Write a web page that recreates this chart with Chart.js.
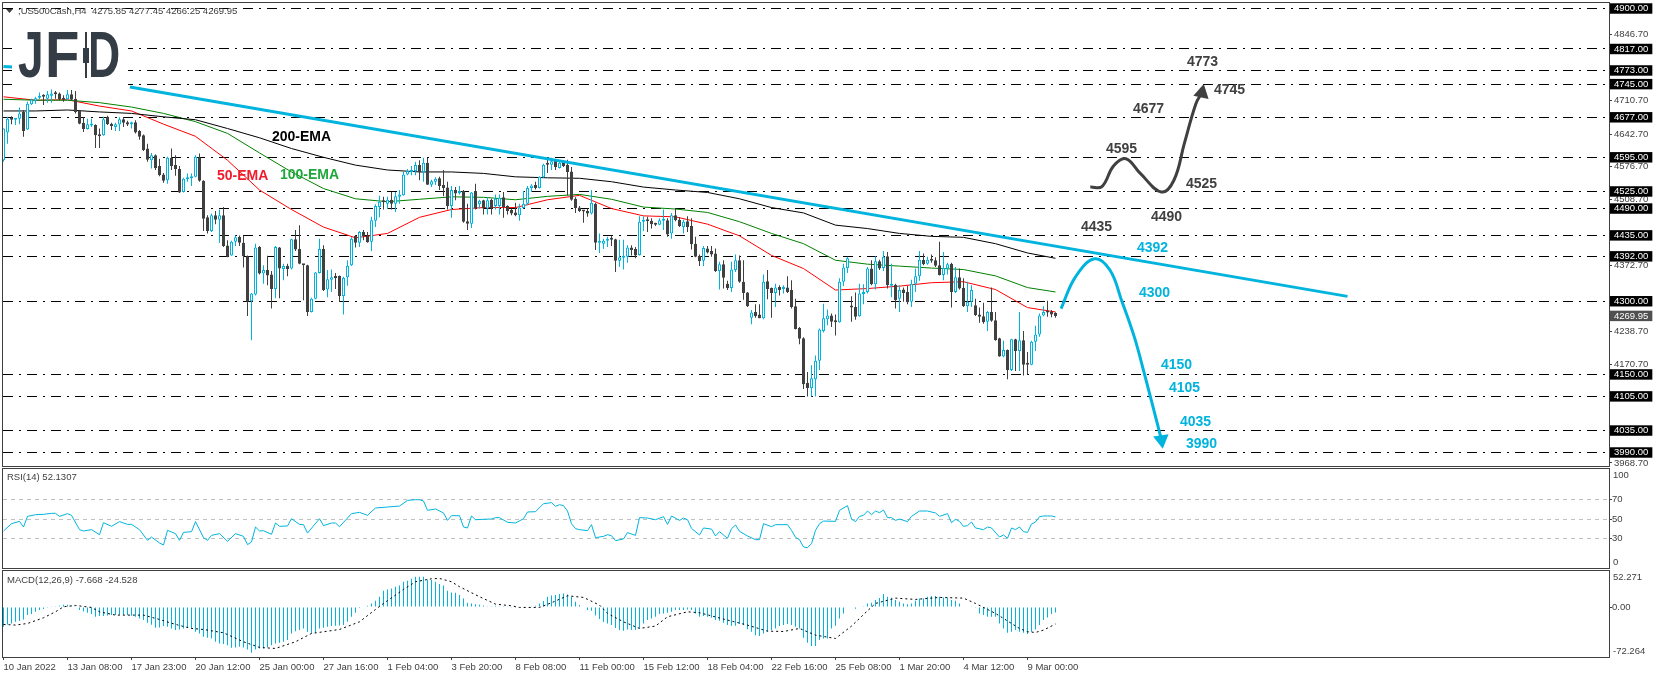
<!DOCTYPE html>
<html>
<head>
<meta charset="utf-8">
<title>US500Cash H4</title>
<style>
html, body { margin: 0; padding: 0; background: #fff; }
#wrap { position: relative; width: 1655px; height: 678px; overflow: hidden; }
canvas { position: absolute; left: 0; }
#logo { position: absolute; left: 12px; top: 25px; width: 116px; height: 62px; background: #fff; overflow: hidden; }
#logo span { position: absolute; top: -2px; font: bold 64px "Liberation Sans", sans-serif; line-height: 64px;
    color: #343c46; transform-origin: left top; }
#logo i { position: absolute; background: #343c46; }
</style>
<script src="https://cdn.jsdelivr.net/npm/chart.js@4"></script>
</head>
<body>
<div id="wrap">
    <canvas id="mainChart" width="1655" height="468" style="top:0"></canvas>
    <canvas id="rsiChart" width="1655" height="101" style="top:468px"></canvas>
    <canvas id="macdChart" width="1655" height="108" style="top:570px"></canvas>
    <div id="logo">
        <span style="left:6px;transform:scaleX(.72)">J</span>
        <span style="left:33px;transform:scaleX(.88)">F</span>
        <span style="left:75px;transform:scaleX(.72)">D</span>
        <i style="left:69px;top:4px;width:10px;height:50px;background:#fff"></i>
        <i style="left:73px;top:7px;width:2px;height:46px"></i>
        <i style="left:71px;top:23px;width:6px;height:15px"></i>
    </div>
</div>
<script>
// candles, oldest first
const opens = [
    4589,4646,4676,4672,4674,4688,4652,4704,4711,4717,
    4720,4715,4721,4725,4726,4717,4714,4724,4715,4690,
    4666,4653,4660,4661,4642,4640,4678,4664,4657,4662,
    4673,4667,4663,4667,4649,4640,4613,4589,4599,4577,
    4560,4548,4594,4579,4571,4524,4550,4552,4555,4595,
    4547,4472,4444,4476,4467,4476,4414,4394,4422,4432,
    4420,4392,4300,4314,4411,4357,4364,4355,4325,4410,
    4366,4373,4367,4427,4407,4376,4374,4278,4305,4358,
    4407,4324,4344,4352,4352,4311,4349,4374,4434,4420,
    4442,4435,4422,4465,4493,4505,4500,4508,4500,4514,
    4517,4560,4565,4567,4579,4565,4584,4539,4545,4552,
    4538,4533,4495,4528,4522,4526,4464,4459,4526,4499,
    4507,4490,4508,4495,4495,4513,4495,4487,4482,4476,
    4491,4500,4532,4538,4532,4554,4582,4580,4588,4573,
    4586,4580,4566,4510,4492,4487,4485,4480,4500,4420,
    4418,4424,4428,4427,4383,4389,4391,4410,4407,4395,
    4463,4466,4465,4458,4457,4465,4466,4439,4476,4467,
    4452,4464,4454,4418,4393,4383,4408,4403,4398,4362,
    4376,4336,4327,4364,4384,4340,4318,4266,4278,4273,
    4265,4341,4327,4317,4329,4325,4328,4323,4290,4245,
    4224,4133,4122,4140,4178,4239,4263,4271,4258,4257,
    4340,4368,4290,4288,4269,4315,4319,4367,4335,4382,
    4368,4392,4332,4334,4305,4324,4319,4299,4336,4351,
    4385,4377,4385,4384,4374,4354,4367,4377,4319,4349,
    4327,4290,4299,4292,4273,4269,4258,4278,4261,4224,
    4187,4200,4159,4222,4198,4220,4172,4170,4217,4232,
    4271,4279,4279,4275.85
];
const highs = [
    4654,4678,4679,4674,4697,4692,4709,4715,4719,4728,
    4724,4731,4734,4731,4728,4722,4733,4733,4731,4692,
    4677,4674,4674,4663,4654,4678,4680,4666,4666,4677,
    4677,4670,4668,4671,4651,4642,4623,4604,4601,4592,
    4563,4596,4613,4599,4577,4553,4562,4562,4599,4603,
    4548,4476,4480,4485,4488,4493,4425,4424,4435,4435,
    4435,4394,4317,4418,4413,4374,4393,4362,4413,4411,
    4377,4377,4428,4446,4456,4376,4375,4307,4360,4428,
    4415,4364,4365,4358,4353,4350,4384,4431,4435,4444,
    4446,4442,4473,4499,4516,4514,4514,4524,4524,4528,
    4565,4571,4577,4586,4589,4594,4594,4549,4554,4555,
    4569,4545,4536,4534,4536,4528,4500,4524,4541,4508,
    4508,4513,4510,4519,4519,4524,4497,4490,4502,4500,
    4526,4536,4540,4545,4556,4582,4592,4594,4590,4589,
    4588,4590,4575,4513,4495,4487,4490,4528,4502,4439,
    4428,4432,4435,4428,4426,4426,4415,4415,4411,4474,
    4474,4473,4470,4461,4470,4488,4470,4481,4490,4472,
    4467,4474,4470,4432,4396,4413,4413,4413,4408,4381,
    4384,4342,4381,4396,4394,4384,4319,4282,4294,4294,
    4355,4364,4328,4336,4333,4333,4351,4343,4305,4247,
    4226,4155,4169,4189,4244,4295,4283,4275,4273,4347,
    4377,4391,4310,4318,4336,4335,4370,4384,4392,4385,
    4403,4401,4377,4336,4333,4328,4331,4344,4367,4403,
    4398,4391,4396,4390,4422,4401,4379,4379,4370,4367,
    4347,4340,4333,4305,4287,4297,4280,4328,4278,4225,
    4219,4201,4223,4223,4278,4239,4196,4219,4250,4275,
    4290,4301,4282,4277.45
];
const lows = [
    4586,4623,4663,4661,4663,4637,4651,4702,4705,4714,
    4702,4707,4707,4715,4712,4709,4712,4712,4685,4663,
    4647,4652,4657,4614,4614,4639,4661,4651,4649,4649,
    4657,4659,4654,4644,4631,4608,4586,4572,4569,4556,
    4543,4541,4569,4557,4522,4523,4545,4536,4554,4545,
    4444,4439,4442,4458,4420,4411,4390,4393,4413,4413,
    4369,4270,4220,4312,4355,4336,4333,4285,4306,4306,
    4343,4351,4365,4403,4376,4302,4270,4277,4304,4357,
    4321,4308,4319,4325,4299,4273,4332,4372,4410,4411,
    4425,4420,4403,4452,4472,4488,4489,4488,4483,4500,
    4516,4558,4558,4558,4548,4545,4538,4534,4538,4528,
    4515,4488,4471,4507,4519,4461,4446,4450,4488,4490,
    4478,4478,4478,4488,4478,4471,4478,4476,4474,4465,
    4490,4497,4524,4529,4531,4553,4563,4569,4569,4572,
    4575,4517,4506,4481,4483,4461,4473,4478,4405,4399,
    4407,4411,4413,4360,4370,4365,4379,4394,4388,4394,
    4444,4442,4449,4454,4456,4446,4432,4428,4464,4452,
    4439,4442,4406,4390,4372,4372,4398,4391,4360,4324,
    4326,4323,4319,4360,4338,4303,4288,4253,4266,4265,
    4263,4304,4266,4288,4312,4316,4317,4285,4242,4212,
    4120,4105,4105,4105,4159,4236,4251,4247,4230,4256,
    4331,4358,4258,4262,4268,4294,4316,4333,4324,4364,
    4362,4326,4308,4285,4278,4299,4294,4288,4319,4342,
    4374,4375,4379,4370,4353,4343,4355,4287,4317,4324,
    4288,4278,4288,4270,4256,4254,4239,4258,4219,4186,
    4185,4140,4157,4157,4157,4148,4150,4169,4198,4227,
    4269,4268,4267,4266.25
];
const closes = [
    4654,4674,4672,4674,4685,4649,4705,4713,4716,4719,
    4719,4724,4726,4724,4714,4713,4724,4713,4688,4664,
    4653,4663,4663,4640,4638,4673,4663,4659,4663,4673,
    4666,4662,4665,4646,4637,4610,4590,4599,4573,4558,
    4547,4594,4577,4571,4523,4551,4553,4556,4596,4547,
    4469,4444,4476,4467,4476,4413,4391,4422,4431,4420,
    4392,4299,4316,4410,4357,4364,4353,4325,4411,4367,
    4372,4366,4427,4406,4377,4374,4278,4305,4359,4407,
    4323,4345,4349,4347,4311,4348,4373,4428,4420,4442,
    4433,4421,4466,4495,4504,4503,4508,4500,4515,4519,
    4560,4567,4569,4579,4565,4584,4539,4546,4551,4536,
    4532,4495,4528,4521,4524,4463,4459,4523,4490,4506,
    4490,4507,4490,4510,4512,4493,4485,4480,4476,4492,
    4500,4532,4537,4532,4555,4580,4580,4587,4575,4584,
    4577,4565,4508,4491,4485,4484,4480,4502,4420,4424,
    4424,4428,4426,4383,4390,4392,4410,4405,4394,4463,
    4466,4464,4458,4457,4466,4468,4437,4476,4466,4454,
    4463,4452,4417,4391,4382,4409,4400,4396,4362,4376,
    4348,4327,4365,4384,4340,4317,4290,4277,4269,4265,
    4340,4325,4317,4328,4323,4328,4319,4288,4243,4223,
    4130,4122,4142,4178,4242,4265,4271,4258,4257,4340,
    4369,4388,4287,4268,4316,4319,4367,4335,4382,4367,
    4391,4333,4335,4302,4323,4317,4298,4336,4351,4385,
    4376,4385,4383,4373,4354,4368,4376,4319,4349,4326,
    4290,4299,4323,4272,4268,4257,4278,4260,4220,4187,
    4200,4159,4222,4198,4220,4170,4170,4217,4232,4271,
    4278,4277,4273,4269.95
];

// moving averages, read every 8 bars
const emaBars = [0,8,16,24,32,40,48,56,64,72,80,88,96,104,112,120,128,136,144,152,160,168,176,184,192,200,208,216,224,232,240,248,256,263];
const ema50 = [4719,4712,4713,4700,4690,4663,4638,4589,4528,4488,4452,4430,4439,4472,4488,4492,4492,4508,4517,4490,4475,4473,4458,4434,4394,4367,4323,4326,4331,4338,4340,4324,4287,4278];
const ema100 = [4714,4712,4712,4707,4698,4685,4668,4644,4604,4565,4531,4510,4504,4509,4514,4513,4508,4515,4519,4509,4493,4489,4482,4463,4439,4418,4384,4376,4372,4368,4365,4352,4328,4319];
const ema200 = [4690,4690,4692,4688,4685,4678,4672,4654,4635,4613,4595,4579,4569,4565,4565,4562,4555,4553,4552,4545,4534,4528,4523,4510,4492,4481,4456,4449,4439,4433,4431,4418,4399,4388];

// horizontal levels and price axis
const levels = [4900,4817,4773,4745,4677,4595,4525,4490,4435,4392,4300,4150,4105,4035,3990];
const plainPriceTicks = [4846.7,4710.7,4642.7,4576.7,4508.7,4372.7,4238.7,4170.7,3968.7];
const lastPrice = 4269.95;

// drawn trend line and forecast paths
const trendBars = [31.6,336];
const trendPrices = [4739,4310];
const earlyTrendBars = [0,2.25];
const earlyTrendPrices = [4781,4780];
const bearBars = [264.4,268,272.75,276.6,279.5,282.7,285.2,289.5];
const bearPrices = [4285,4350,4387,4364,4302,4227,4152,4016];
const bullBars = [271.7,274.6,277.5,280.6,284.2,289.45,292.6,295.2,298.1,299.6];
const bullPrices = [4534,4535,4577,4592,4562,4524,4548,4623,4705,4727];

// RSI(14), read at the turning points
const rsiBars = [0,2,4,5,6,8,10,12,13,14,16,17,19,20,22,24,25,27,29,31,32,34,36,37,39,40,41,43,44,45,47,48,50,51,52,54,56,58,60,61,62,63,64,65,67,68,69,71,72,74,75,76,79,80,82,83,84,87,89,91,93,96,99,101,103,104,105,106,108,110,111,112,114,115,116,117,118,120,122,123,124,126,128,130,131,133,135,137,138,139,140,141,142,143,144,146,147,148,150,151,152,153,155,156,158,159,161,163,165,166,167,169,170,171,172,174,175,177,178,179,181,182,183,184,186,188,189,190,192,193,196,197,198,199,200,201,202,203,204,205,208,209,211,212,213,214,215,216,217,218,219,220,221,222,223,224,226,227,229,231,233,234,236,237,238,239,240,241,242,243,245,246,247,249,250,251,252,253,254,255,256,257,258,259,260,261,262,263];
const rsiValues = [37.7,45.2,47.6,41.8,52.7,54.4,54.8,55.8,55.8,52.7,55.5,53.8,39.1,37.7,39.1,33.9,46.2,42.5,47.3,44.5,44.5,39.1,28.1,31.5,25.4,23.3,38.4,35,28.1,36.3,37,47.3,30.9,28.1,33.2,35,27.1,35,32.2,23.7,26.4,41.8,37.7,38,34.3,45.9,42.5,42.8,50.3,44.5,44.2,35.6,50.3,43.2,45.9,45.9,42.1,55.5,56.8,53.8,61.3,62.3,63.3,69.1,69.8,69.8,68.5,58.9,60.3,56.2,48.6,53.4,53.4,41.8,40.8,53.1,49.3,49.7,50,51.4,51.4,46.6,45.9,50.3,57.2,57.5,65.7,66.8,63,64.7,63.7,58.2,45.2,40.1,39.1,38,44.2,30.9,32.2,33.9,32.9,27.8,29.5,36,33.2,51.4,51,49.3,52.4,44.5,53.1,48.6,51,49.3,40.4,33.6,40.8,39.7,32.6,37,30.2,40.1,43.8,37.4,32.6,28.8,28.8,45.2,42.1,44.2,44.2,38.4,31.2,28.8,21.3,20.6,24.7,38.4,45.2,47.9,47.6,58.9,63.7,50,47.3,52.7,53.8,58.2,54.4,58.2,56.5,59.2,51.4,51.4,48.6,50,47.3,52.7,58.2,58.2,56.2,52.7,55.5,46.2,49.7,47.6,42.5,43.2,46.9,40.8,39.1,41.8,40.8,31.5,33.6,30.2,40.8,39.1,41.8,37,36.3,44.9,46.9,52.4,53.1,53.1,53.1,52.13];
const rsiLevels = [70,50,30];

// MACD(12,26,9): one histogram value per bar, signal line at its turning points
const macdHist = [
    -28.5,-25.1,-23.7,-21.3,-20.3,-17.9,-11.6,-10.1,-6.8,-4.3,
    -2.9,-1,1.4,1.4,1.9,3.4,3.4,2.4,1.4,-4.3,
    -6.3,-8.2,-10.1,-14,-13,-13,-12.1,-11.6,-11.6,-11.1,
    -11.1,-11.6,-12.6,-14,-16.4,-18.8,-22.7,-25.6,-29.9,-29.5,
    -27.5,-28.5,-30.9,-33.3,-32.4,-30.9,-29.9,-30.9,-35.7,-38.2,
    -43,-44.4,-45.4,-50.2,-52.6,-53.6,-55.1,-58.9,-58.4,-57.5,
    -58.4,-61.4,-66.2,-61.4,-59.9,-59.9,-58.4,-55.1,-52.6,-51.7,
    -50.2,-47.8,-38.2,-34.8,-33.3,-30.9,-35.7,-38.2,-37.2,-30.9,
    -29.9,-28.5,-27.5,-27,-26.6,-26.1,-21.3,-14,-8.2,-1.4,
    -0.5,1.9,5.3,9.2,15,23.7,25.6,27,29.5,31.4,
    36.7,38.2,41.1,44,44,44,40.1,39.1,36.7,33.3,
    31.4,23.7,21.3,20.8,17.4,12.6,6.3,5.3,4.3,3.4,
    2.4,1.4,0.5,1.9,1.4,0.5,0.5,-0.3,-1,-1,
    -0.5,-0.5,1.4,1.9,5.3,8.7,15,16.9,17.4,18.8,
    19.8,18.4,15,7.7,2.9,0,-4.3,-5.3,-12.1,-17.4,
    -21.7,-23.7,-26.1,-30.4,-33.3,-34.3,-32.4,-33.3,-33.3,-30.9,
    -23.7,-18.8,-16.4,-14,-10.1,-9.2,-8.2,-6.8,-4.3,-4.3,
    -4.3,-3.4,-4.3,-9.2,-14,-13,-14,-15.5,-18.8,-19.8,
    -22.7,-26.1,-27,-27,-24.6,-26.1,-31.9,-35.7,-40.6,-42,
    -38.2,-35.7,-33.3,-30.9,-27.5,-26.1,-24.6,-26.1,-28.5,-30.9,
    -44.4,-51.7,-56.5,-56.5,-47.8,-45.4,-45.4,-30.9,-27,-16.4,
    -9.2,0,0,-2.4,0,0.5,5.3,6.3,10.1,13,
    18.8,15,13.5,10.1,7.7,5.3,4.3,5.3,9.2,12.6,
    12.6,15,15.9,15.9,15,14,14,10.1,9.2,5.3,
    0,0,0.5,-1,-9.2,-11.6,-14,-14,-14,-23.7,
    -30.9,-37.2,-35.7,-33.3,-35.7,-37.2,-39.1,-35.7,-32.4,-26.1,
    -18.8,-15,-10.1,-7.668
];
const signalBars = [0,3,6,10,13,15,18,22,24,28,35,39,43,47,50,55,60,64,68,73,77,84,89,93,95,98,100,103,107,109,112,114,119,123,127,129,134,137,141,145,149,151,155,159,163,166,171,174,181,186,191,195,199,203,208,212,216,218,223,228,234,240,243,248,252,254,256,258,260,263];
const signalValues = [-25.1,-26,-23.7,-15.5,-6.8,0.5,2.4,-0.5,-6.8,-11.6,-11.6,-17.9,-25.1,-30.9,-32.4,-37.2,-50.2,-58.4,-59.9,-50.2,-38.2,-32.4,-21.3,-3.4,5.3,17.4,25.6,36.7,41,41.5,36.7,29.5,15,4.3,1.9,-0.5,-0.5,6.3,16.4,14,2.9,-9.2,-21.3,-30.9,-27.5,-14,-6.8,-8.2,-18.8,-26.1,-34.8,-35.3,-30.9,-40.6,-45.4,-27.5,-5.3,5.3,13,11.1,14,13,5.3,-9.2,-23.7,-30.9,-35.7,-36.7,-33.3,-24.528];

// time axis, one label every 16 bars
const timeLabels = ['10 Jan 2022','13 Jan 08:00','17 Jan 23:00','20 Jan 12:00','25 Jan 00:00','27 Jan 16:00','1 Feb 04:00','3 Feb 20:00','8 Feb 08:00','11 Feb 00:00','15 Feb 12:00','18 Feb 04:00','22 Feb 16:00','25 Feb 08:00','1 Mar 20:00','4 Mar 12:00','9 Mar 00:00'];
const barsPerLabel = 16;

const DARK = '#404040';
const BLUE = '#00b4de';
const AXIS_FONT = { family: 'Liberation Sans', size: 9.5, lineHeight: 1.1 };
const xRange = { type: 'linear', min: -0.125, max: 401.375, offset: false };

const pairs = (xs, ys) => xs.map((x, i) => ({ x: x, y: ys[i] }));
const flat = (y) => [{ x: xRange.min, y: y }, { x: xRange.max, y: y }];
const line = (data, color, width, order, extra) => Object.assign({
    type: 'line', data: data, borderColor: color, borderWidth: width,
    pointRadius: 0, tension: 0, order: order
}, extra || {});

// text that is not part of any axis, [text, x, y, color, font]
const HEAD = '9.5px "Liberation Sans"';
const BIG = 'bold 14px "Liberation Sans"';
const mainText = [
    [';US500Cash,H4  4275.85 4277.45 4266.25 4269.95', 18, 11, DARK, HEAD],
    ['200-EMA', 272, 137, '#000000', BIG],
    ['50-EMA', 217, 176, '#f01c2c', BIG],
    ['100-EMA', 280, 175, '#1fa83a', BIG],
    ['4773', 1187, 62, DARK, BIG], ['4745', 1214, 90, DARK, BIG],
    ['4677', 1133, 109, DARK, BIG], ['4595', 1106, 149, DARK, BIG],
    ['4525', 1186, 184, DARK, BIG], ['4490', 1151, 217, DARK, BIG],
    ['4435', 1081, 227, DARK, BIG],
    ['4392', 1137, 248, BLUE, BIG], ['4300', 1139, 293, BLUE, BIG],
    ['4150', 1161, 365, BLUE, BIG], ['4105', 1169, 388, BLUE, BIG],
    ['4035', 1180, 422, BLUE, BIG], ['3990', 1186, 444, BLUE, BIG]
];
const rsiText = [
    ['RSI(14) 52.1307', 7, 9, DARK, HEAD],
    ['100', 1613, 7, DARK, HEAD], ['0', 1613, 94, DARK, HEAD]
];
const macdText = [
    ['MACD(12,26,9) -7.668 -24.528', 7, 10, DARK, HEAD],
    ['52.271', 1613, 7, DARK, HEAD], ['-72.264', 1613, 81, DARK, HEAD]
];

// panel frame, free text, and level lines kept sharp on a pixel row
const panelDeco = {
    id: 'panelDeco',
    beforeDatasetDraw(chart, args) {
        const ds = chart.data.datasets[args.index];
        if (!ds.snapRow) return;
        const y = chart.scales.y.getPixelForValue(ds.data[0].y);
        chart.ctx.save();
        chart.ctx.translate(0, Math.floor(y) + 0.5 - y);
    },
    afterDatasetDraw(chart, args) {
        if (chart.data.datasets[args.index].snapRow) chart.ctx.restore();
    },
    afterDraw(chart, args, opts) {
        const c = chart.ctx, a = chart.chartArea;
        c.save();
        c.strokeStyle = DARK;
        c.lineWidth = 1;
        c.strokeRect(a.left - 0.5, a.top - 0.5, a.right - a.left + 1, a.bottom - a.top + 1);
        c.textBaseline = 'middle';
        c.textAlign = 'left';
        (opts.text || []).forEach(t => {
            c.fillStyle = t[3];
            c.font = t[4];
            c.fillText(t[0], t[1], t[2]);
        });
        if (opts.marker) {
            c.fillStyle = DARK;
            c.beginPath();
            c.moveTo(6, 9); c.lineTo(13, 9); c.lineTo(9.5, 13);
            c.fill();
        }
        c.restore();
    }
};

function baseOptions(padding, yScale, xScale, deco) {
    return {
        responsive: false,
        animation: false,
        events: [],
        layout: { padding: padding, autoPadding: false },
        plugins: { legend: { display: false }, tooltip: { enabled: false }, panelDeco: deco },
        scales: { x: xScale, y: yScale }
    };
}

function yAxis(min, max, tickList, tickOpts) {
    return {
        min: min, max: max, position: 'right',
        border: { display: false },
        grid: { drawOnChartArea: false, tickLength: 3, color: DARK },
        afterBuildTicks(scale) { scale.ticks = tickList.map(v => ({ value: v })); },
        afterFit(scale) { scale.width = 46; scale.paddingTop = 0; scale.paddingBottom = 0; },
        ticks: Object.assign({
            autoSkip: false, font: AXIS_FONT, color: DARK, padding: 2
        }, tickOpts)
    };
}

// ---- price panel ----
const wickColors = closes.map((c, i) => c >= opens[i] ? BLUE : DARK);
const bodyFills = closes.map((c, i) => c >= opens[i] ? '#ffffff' : DARK);
const wicks = highs.map((h, i) => ({ x: i, y: [lows[i], h] }));
const bodies = opens.map((o, i) => ({ x: i, y: [Math.min(o, closes[i]), Math.max(o, closes[i])] }));

const priceTicks = plainPriceTicks.concat(levels, [lastPrice]);
const isLevel = (v) => levels.includes(v);

const mainDatasets = levels.map(v => line(flat(v), '#000000', 1, 7, { borderDash: [10, 6, 2, 6], snapRow: true }));
mainDatasets.push(
    line(pairs(emaBars, ema200), '#000000', 1, 6),
    line(pairs(emaBars, ema100), '#008000', 1, 6),
    line(pairs(emaBars, ema50), '#ff0000', 1, 6),
    { type: 'bar', data: wicks, backgroundColor: wickColors, barThickness: 1, inflateAmount: 0, grouped: false, order: 5 },
    { type: 'bar', data: bodies, backgroundColor: bodyFills, borderColor: wickColors, borderWidth: 1,
      borderSkipped: false, barThickness: 3, minBarLength: 2, inflateAmount: 0, grouped: false, order: 4 },
    line(pairs(trendBars, trendPrices), BLUE, 3, 3),
    line(pairs(earlyTrendBars, earlyTrendPrices), BLUE, 3, 3),
    line(pairs(bearBars, bearPrices), BLUE, 3, 2, {
        tension: 0.4,
        pointRadius: (ctx) => ctx.dataIndex === bearBars.length - 1 ? 9 : 0,
        pointStyle: 'triangle', pointRotation: 172, pointBackgroundColor: BLUE, pointBorderWidth: 0
    }),
    line(pairs(bullBars, bullPrices), DARK, 3, 2, {
        tension: 0.4,
        pointRadius: (ctx) => ctx.dataIndex === bullBars.length - 1 ? 9 : 0,
        pointStyle: 'triangle', pointRotation: 12, pointBackgroundColor: DARK, pointBorderWidth: 0
    })
);

new Chart(document.getElementById('mainChart'), {
    type: 'bar',
    data: { datasets: mainDatasets },
    options: baseOptions(
        { left: 3, top: 3, bottom: 2, right: 0 },
        yAxis(3962.33, 4911.27, priceTicks, {
            callback: (v) => v.toFixed(2),
            color: (ctx) => isLevel(ctx.tick.value) || ctx.tick.value === lastPrice ? '#ffffff' : DARK,
            showLabelBackdrop: (ctx) => isLevel(ctx.tick.value) || ctx.tick.value === lastPrice,
            backdropColor: (ctx) => ctx.tick.value === lastPrice ? '#505050' : '#000000',
            backdropPadding: { x: 4, y: 0 }
        }),
        Object.assign({ display: false }, xRange),
        { text: mainText, marker: true }
    ),
    plugins: [panelDeco]
});

// ---- RSI panel ----
const rsiDatasets = rsiLevels.map(v => line(flat(v), '#c0c0c0', 1, 2, { borderDash: [4, 4], snapRow: true }));
rsiDatasets.push(line(pairs(rsiBars, rsiValues), BLUE, 1, 1));

new Chart(document.getElementById('rsiChart'), {
    type: 'line',
    data: { datasets: rsiDatasets },
    options: baseOptions(
        { left: 3, top: 1, bottom: 1, right: 0 },
        yAxis(-0.26, 101.3, rsiLevels, { padding: 0 }),
        Object.assign({ display: false }, xRange),
        { text: rsiText }
    ),
    plugins: [panelDeco]
});

// ---- MACD panel ----
new Chart(document.getElementById('macdChart'), {
    type: 'bar',
    data: {
        datasets: [
            { type: 'bar', data: pairs(macdHist.map((v, i) => i), macdHist), backgroundColor: BLUE, barThickness: 1, inflateAmount: 0, order: 2 },
            line(pairs(signalBars, signalValues), '#000000', 1, 1, { borderDash: [2, 3] })
        ]
    },
    options: baseOptions(
        { left: 3, top: 1, bottom: 0, right: 0 },
        yAxis(-72.264, 52.271, [0], { padding: 0, callback: (v) => v.toFixed(2) }),
        Object.assign({}, xRange, {
            border: { display: false },
            grid: { drawOnChartArea: false, tickLength: 3, color: DARK, offset: false },
            afterBuildTicks(scale) { scale.ticks = timeLabels.map((t, i) => ({ value: i * barsPerLabel })); },
            afterFit(scale) { scale.height = 21; scale.paddingLeft = 0; scale.paddingRight = 0; },
            ticks: {
                autoSkip: false, maxRotation: 0, align: 'start', font: AXIS_FONT, color: DARK, padding: 2,
                callback: (v) => timeLabels[v / barsPerLabel]
            }
        }),
        { text: macdText }
    ),
    plugins: [panelDeco]
});
</script>
</body>
</html>
